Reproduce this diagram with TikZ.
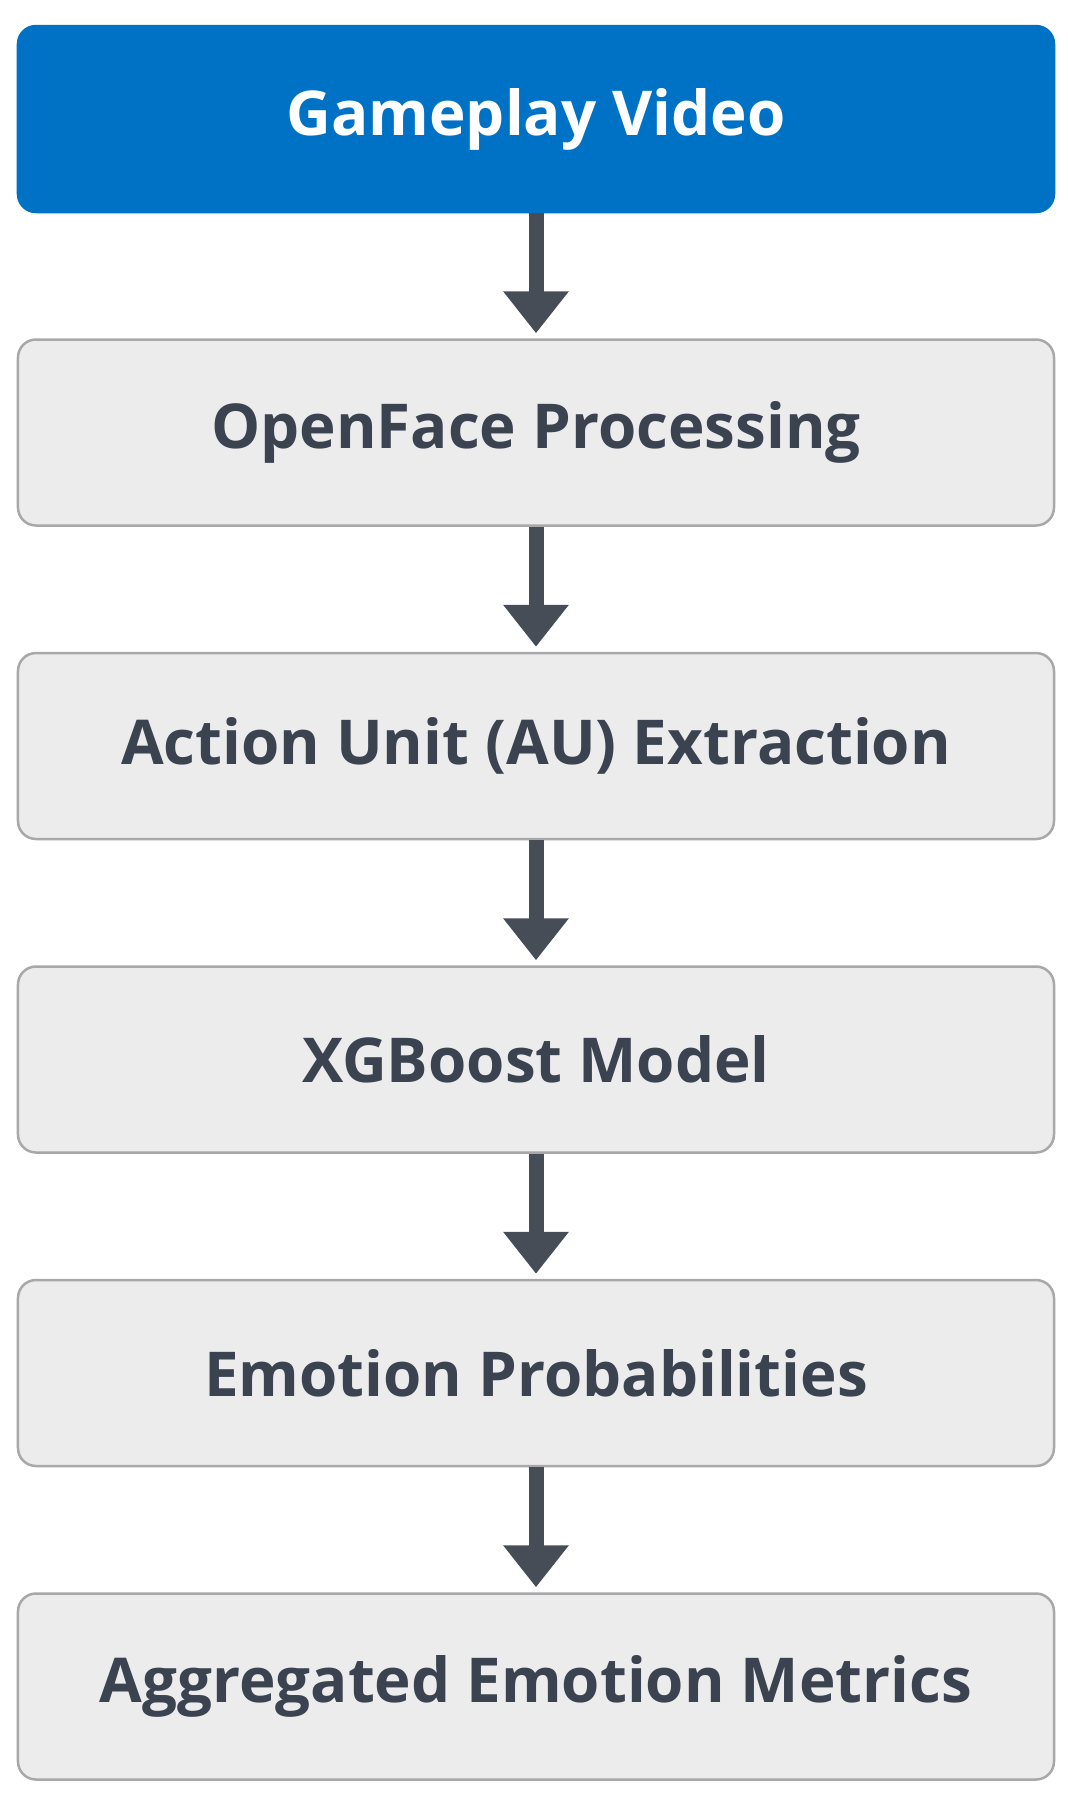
\documentclass[tikz,border=0pt]{standalone}
\usepackage{fontspec}
\setmainfont{Open Sans}
\usetikzlibrary{positioning,arrows.meta}
\definecolor{videoblue}{RGB}{0,114,198}
\definecolor{boxgrey}{RGB}{236,236,237}
\definecolor{edgegrey}{RGB}{168,168,170}
\definecolor{inkgrey}{RGB}{59,67,81}
\definecolor{arrowgrey}{RGB}{71,77,87}
\begin{document}
\begin{tikzpicture}
\tikzstyle{every node}=[font=\fontsize{17.6pt}{21pt}\selectfont\bfseries]
\tikzstyle{stage}=[draw=edgegrey,line width=0.25mm,fill=boxgrey,rounded corners=1.8mm,minimum width=10.36cm,minimum height=1.86cm,text=inkgrey]
\tikzstyle{source}=[stage,draw=videoblue,fill=videoblue,text=white]
\tikzstyle{flow}=[draw=arrowgrey,line width=1.5mm,-{Triangle[width=6.3mm,length=4.2mm]},shorten >=0.5mm]
\useasboundingbox (0,0) rectangle (10.68,-18);
\begin{scope}[node distance=1.25cm]
\node[source] (video) at (5.36,-1.19) {Gameplay Video};
\node[stage,below=of video] (openface) {OpenFace Processing};
\node[stage,below=of openface] (au) {Action Unit (AU) Extraction};
\node[stage,below=of au] (xgb) {XGBoost Model};
\node[stage,below=of xgb] (probs) {Emotion Probabilities};
\node[stage,below=of probs] (metrics) {Aggregated Emotion Metrics};
\end{scope}
\draw[flow](video)--(openface);
\draw[flow](openface)--(au);
\draw[flow](au)--(xgb);
\draw[flow](xgb)--(probs);
\draw[flow](probs)--(metrics);
\end{tikzpicture}
\end{document}
